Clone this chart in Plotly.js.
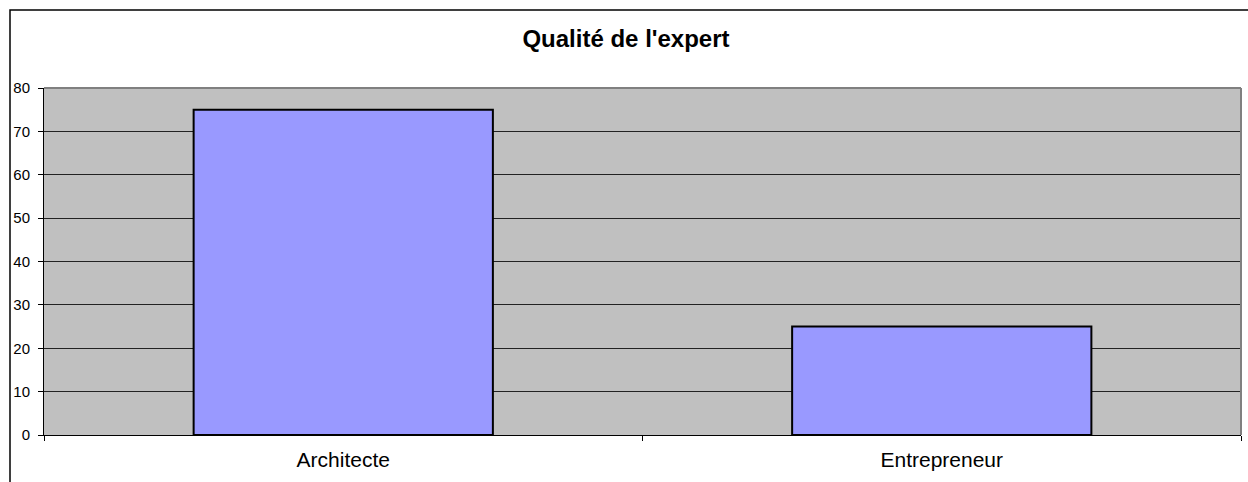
<!DOCTYPE html>
<html>
<head>
<meta charset="utf-8">
<script src="https://cdn.plot.ly/plotly-3.0.1.min.js"></script>
<style>
  html, body { margin: 0; padding: 0; background: #fff; }
  #chart { width: 1248px; height: 482px; }
</style>
</head>
<body>
<div id="chart"></div>
<script>
const categories = ['Architecte', 'Entrepreneur'];
const values = [75, 25];
const chartTitle = "Qualité de l'expert";

const trace = {
    x: categories,
    y: values,
    type: 'bar',
    marker: {
        color: '#9999FF',
        line: { color: '#000000', width: 2 }
    },
    hoverinfo: 'x+y'
};

const layout = {
    width: 1248,
    height: 482,
    paper_bgcolor: '#ffffff',
    plot_bgcolor: '#C0C0C0',
    showlegend: false,
    bargap: 0.5,
    font: { family: 'Arial, "Liberation Sans", sans-serif', color: '#000' },

    title: {
        text: '<b>' + chartTitle + '</b>',
        font: { size: 24, color: '#000' },
        xref: 'container',
        x: 626 / 1248,
        xanchor: 'center',
        yref: 'container',
        y: 1 - 38.5 / 482,
        yanchor: 'middle'
    },

    margin: { l: 44, r: 7, t: 88, b: 47 },

    xaxis: {
        type: 'category',
        showline: true,
        linecolor: '#000',
        linewidth: 1,
        ticks: 'outside',
        tickson: 'boundaries',
        ticklen: 5,
        tickcolor: '#000',
        tickfont: { size: 21 },
        ticklabelstandoff: 6,
        showgrid: false,
        fixedrange: true
    },

    yaxis: {
        range: [0, 80],
        dtick: 10,
        showline: true,
        linecolor: '#000',
        linewidth: 1,
        ticks: 'outside',
        ticklen: 5,
        tickcolor: '#000',
        tickfont: { size: 15 },
        ticklabelstandoff: 5,
        showgrid: true,
        gridcolor: '#222222',
        gridwidth: 1,
        zeroline: false,
        fixedrange: true
    },

    shapes: [
        // plot area border (top + right, grey)
        { type: 'line', xref: 'paper', yref: 'paper', x0: 0, x1: 1, y0: 1, y1: 1,
          line: { color: '#808080', width: 2 } },
        { type: 'line', xref: 'paper', yref: 'paper', x0: 1, x1: 1, y0: 0, y1: 1,
          line: { color: '#808080', width: 2 } },
        // outer chart frame
        { type: 'rect', xref: 'paper', yref: 'paper',
          x0: (10 - 44) / 1197, x1: 1.05, y0: -0.3, y1: (435 - 10) / 347,
          line: { color: '#000', width: 1.5 }, fillcolor: 'rgba(0,0,0,0)' }
    ]
};

Plotly.newPlot('chart', [trace], layout, { displayModeBar: false, staticPlot: true });
</script>
</body>
</html>
